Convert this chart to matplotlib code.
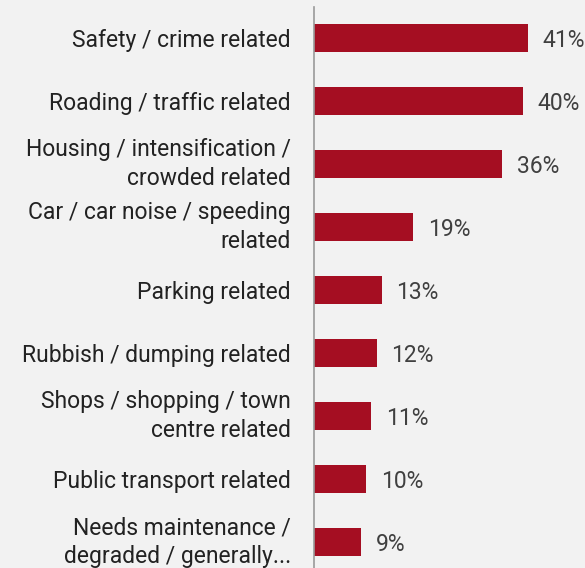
import matplotlib.pyplot as plt

# Data
categories = [
    'Safety / crime related',
    'Roading / traffic related',
    'Housing / intensification /\ncrowded related',
    'Car / car noise / speeding\nrelated',
    'Parking related',
    'Rubbish / dumping related',
    'Shops / shopping / town\ncentre related',
    'Public transport related',
    'Needs maintenance /\ndegraded / generally...',
]
values = [41, 40, 36, 19, 13, 12, 11, 10, 9]

bg = '#F2F2F2'
bar_color = '#A50E22'

plt.rcParams['font.family'] = ['Roboto', 'DejaVu Sans']

fig = plt.figure(figsize=(5.85, 5.68), dpi=100, facecolor=bg)
ax = fig.add_axes([314 / 585, 0, 1 - 314 / 585, 1 - 7 / 568])
ax.set_facecolor(bg)

y = list(range(len(categories)))
ax.barh(y, values, height=0.44, color=bar_color)

for yi, v in zip(y, values):
    ax.text(v + 2.8, yi, f'{v}%', va='center_baseline', ha='left',
            fontsize=16.5, color='#404040')

ax.set_xlim(0, 271 / 5.22)
ax.set_ylim(8 + 0.413, -0.492)

ax.set_yticks(y)
ax.set_yticklabels(categories, fontsize=16.5, color='#222222',
                   ha='right', multialignment='right', linespacing=1.3)
# two-line labels centred on the bar, one-liners on their baseline centre
for lbl in ax.get_yticklabels():
    lbl.set_va('center' if '\n' in lbl.get_text() else 'center_baseline')
ax.tick_params(axis='y', length=0, pad=16.5)
ax.set_xticks([])

for s in ['top', 'right', 'bottom']:
    ax.spines[s].set_visible(False)
ax.spines['left'].set_color('#9a9a9a')
ax.spines['left'].set_linewidth(1.2)

fig.savefig('out.png', dpi=100, facecolor=bg)
